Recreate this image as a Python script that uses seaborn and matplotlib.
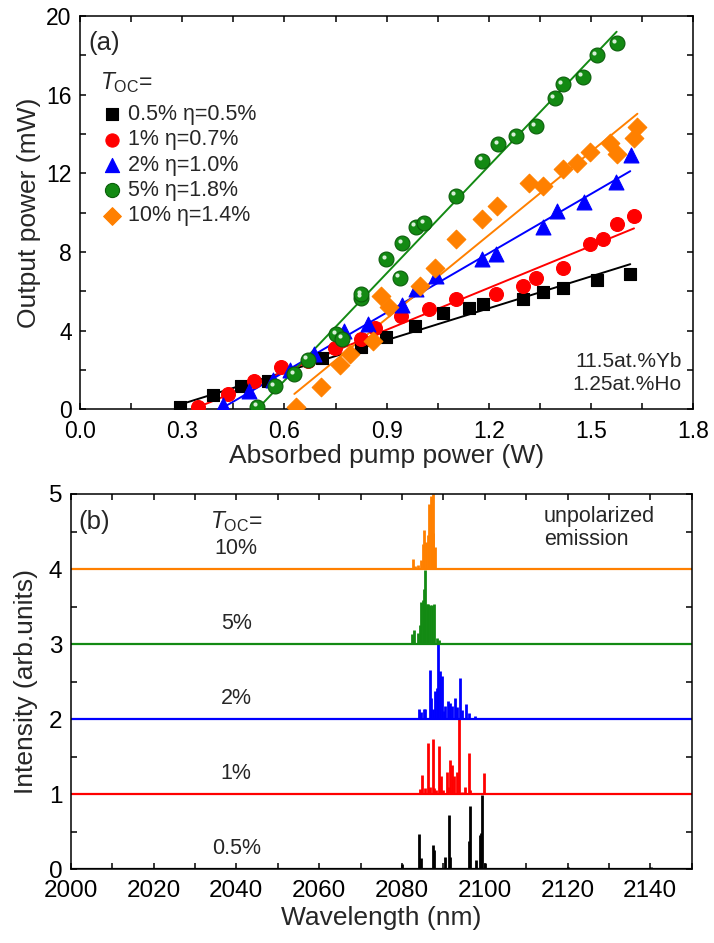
import numpy as np
import pandas as pd
import matplotlib
matplotlib.use("Agg")
import matplotlib.pyplot as plt
import matplotlib.transforms as mtrans
from matplotlib.ticker import MultipleLocator
import seaborn as sns

# ---------------- data: panel (a) ----------------
toc_labels = ["0.5% η=0.5%", "1% η=0.7%", "2% η=1.0%", "5% η=1.8%", "10% η=1.4%"]
colors_a = ["#000000", "#ff0000", "#0000ff", "#138a13", "#ff8000"]
markers_a = ["s", "o", "^", "o", "D"]

p_black = [0.293, 0.391, 0.473, 0.551, 0.710, 0.826, 0.899, 0.984, 1.064, 1.142, 1.183, 1.299, 1.360, 1.419, 1.517, 1.615]
o_black = [0.12, 0.71, 1.21, 1.43, 2.62, 3.16, 3.67, 4.23, 4.90, 5.14, 5.34, 5.60, 5.99, 6.19, 6.56, 6.87]

p_red = [0.345, 0.433, 0.512, 0.590, 0.669, 0.747, 0.826, 0.865, 0.943, 1.024, 1.103, 1.221, 1.299, 1.338, 1.419, 1.497, 1.536, 1.575, 1.626]
o_red = [0.12, 0.78, 1.43, 2.14, 2.45, 3.13, 3.56, 4.15, 4.74, 5.08, 5.63, 5.85, 6.28, 6.70, 7.16, 8.40, 8.66, 9.42, 9.85]

p_blue = [0.419, 0.497, 0.566, 0.615, 0.688, 0.776, 0.845, 0.946, 0.985, 1.044, 1.181, 1.221, 1.360, 1.399, 1.478, 1.574, 1.617]
o_blue = [0.20, 0.92, 1.51, 2.02, 2.79, 3.98, 4.32, 5.31, 6.10, 6.79, 7.63, 7.89, 9.25, 10.10, 10.53, 11.55, 12.91]

p_green = [0.520, 0.571, 0.629, 0.669, 0.752, 0.770, 0.826, 0.826, 0.899, 0.938, 0.946, 0.985, 1.010, 1.103, 1.181, 1.227, 1.279, 1.338, 1.394, 1.417, 1.476, 1.517, 1.575]
o_green = [0.12, 1.17, 1.77, 2.53, 3.81, 3.60, 5.68, 5.85, 7.63, 6.70, 8.44, 9.29, 9.46, 10.87, 12.65, 13.47, 13.88, 14.39, 15.83, 16.52, 16.90, 18.01, 18.61]

p_orange = [0.634, 0.708, 0.762, 0.791, 0.860, 0.884, 0.907, 0.997, 1.041, 1.103, 1.181, 1.223, 1.319, 1.358, 1.417, 1.458, 1.497, 1.556, 1.575, 1.626, 1.636]
o_orange = [0.12, 1.12, 2.24, 2.79, 3.47, 5.77, 5.20, 6.28, 7.21, 8.66, 9.68, 10.36, 11.50, 11.38, 12.23, 12.52, 13.09, 13.54, 13.00, 13.81, 14.36]

fit_x0 = [0.286, 0.335, 0.414, 0.520, 0.629]
fit_x1 = [1.615, 1.626, 1.615, 1.575, 1.636]
fit_y0 = [0.20, 0.03, 0.03, 0.00, 0.78]
fit_y1 = [7.38, 9.20, 12.11, 19.20, 15.03]

# ---------------- data: panel (b) ----------------
spec_labels = ["0.5%", "1%", "2%", "5%", "10%"]
spec_offsets = [0, 1, 2, 3, 4]
spec_colors = ["#000000", "#ff0000", "#0000ff", "#138a13", "#ff8000"]
wl_range = [2000, 2150]

wl_black = [2080.1, 2084.1, 2084.5, 2087.5, 2087.8, 2090.5, 2091.4, 2091.7, 2096.2, 2096.5, 2097.8, 2098.8, 2099.1, 2099.4, 2100.0, 2110.1, 2120.0, 2140.1]
in_black = [0.07, 0.47, 0.15, 0.32, 0.26, 0.17, 0.72, 0.17, 0.38, 0.84, 0.12, 0.46, 0.48, 0.99, 0.08, 0.02, 0.03, 0.03]

wl_red = [2084.3, 2084.9, 2085.7, 2086.3, 2086.7, 2087.4, 2087.8, 2088.3, 2089.0, 2089.4, 2089.9, 2090.8, 2091.1, 2091.7, 2092.1, 2092.5, 2093.2, 2093.7, 2094.4, 2095.3, 2096.1, 2096.5, 2099.8]
in_red = [0.07, 0.26, 0.08, 0.68, 0.10, 0.73, 0.08, 0.06, 0.64, 0.24, 0.05, 0.30, 0.10, 0.46, 0.39, 0.24, 0.30, 1.00, 0.03, 0.09, 0.55, 0.05, 0.28]

wl_blue = [2084.1, 2084.5, 2085.3, 2085.6, 2086.7, 2087.1, 2087.5, 2088.1, 2088.5, 2088.7, 2089.1, 2089.7, 2090.2, 2090.5, 2091.1, 2091.6, 2092.2, 2092.8, 2093.3, 2094.1, 2094.6, 2095.6, 2096.1, 2097.7]
in_blue = [0.13, 0.10, 0.14, 0.13, 0.65, 0.28, 0.14, 0.38, 0.42, 1.00, 0.64, 0.57, 0.11, 0.18, 0.24, 0.21, 0.18, 0.28, 0.16, 0.55, 0.12, 0.20, 0.08, 0.045]

wl_green = [2082.4, 2082.9, 2083.9, 2084.3, 2084.6, 2085.0, 2085.4, 2085.7, 2086.1, 2086.4, 2086.9, 2087.3, 2087.7, 2088.5, 2088.9]
in_green = [0.14, 0.19, 0.15, 0.25, 0.56, 0.59, 0.74, 0.99, 0.54, 0.54, 0.52, 0.52, 0.53, 0.08, 0.05]

wl_orange = [2082.7, 2083.1, 2083.9, 2084.5, 2085.0, 2085.3, 2085.9, 2086.3, 2086.5, 2087.0, 2087.4, 2087.6, 2087.9, 2088.5]
in_orange = [0.14, 0.04, 0.06, 0.12, 0.34, 0.52, 0.36, 0.46, 0.87, 0.97, 1.00, 0.48, 0.30, 0.02]

# ---------------- style ----------------
sns.set_theme(style="ticks")
plt.rcParams["font.family"] = ["Liberation Sans", "DejaVu Sans"]
plt.rcParams["mathtext.fontset"] = "custom"
plt.rcParams["mathtext.rm"] = "Liberation Sans"
plt.rcParams["mathtext.it"] = "Liberation Sans:italic"
plt.rcParams["axes.linewidth"] = 1.1

fig = plt.figure(figsize=(7.14, 9.43), dpi=100)
axa = fig.add_axes([80 / 714, 1 - 409.3 / 943, 613.3 / 714, 393.3 / 943])
axb = fig.add_axes([70.7 / 714, 1 - 869.3 / 943, 621 / 714, 375.3 / 943])

# ---------------- panel (a) ----------------
xs = [p_black, p_red, p_blue, p_green, p_orange]
ys = [o_black, o_red, o_blue, o_green, o_orange]
for i in range(5):
    sns.lineplot(x=[fit_x0[i], fit_x1[i]], y=[fit_y0[i], fit_y1[i]], ax=axa,
                 color=colors_a[i], lw=1.4, zorder=2, legend=False)
sizes = [80, 100, 115, 115, 90]
for i in range(5):
    sns.scatterplot(x=xs[i], y=ys[i], ax=axa, marker=markers_a[i], s=sizes[i],
                    color=colors_a[i], edgecolor=("#0b5e0b" if i == 3 else colors_a[i]),
                    linewidth=0.8, label=toc_labels[i], zorder=3)
# highlight on green spheres
hl = mtrans.offset_copy(axa.transData, fig=fig, x=-1.8, y=1.8, units="points")
axa.scatter(p_green, o_green, s=9, color="#d8efd8", transform=hl, zorder=4, linewidths=0)

axa.set_xlim(0, 1.8)
axa.set_ylim(0, 20)
axa.xaxis.set_major_locator(MultipleLocator(0.3))
axa.xaxis.set_minor_locator(MultipleLocator(0.15))
axa.yaxis.set_major_locator(MultipleLocator(4))
axa.yaxis.set_minor_locator(MultipleLocator(2))
axa.xaxis.set_major_formatter(matplotlib.ticker.FormatStrFormatter("%.1f"))
axa.set_xlabel("Absorbed pump power (W)", fontsize=19, labelpad=1)
axa.set_ylabel("Output power (mW)", fontsize=19, labelpad=4)

leg = axa.legend(loc="upper left", bbox_to_anchor=(0.034, 0.776), frameon=False,
                 fontsize=15.5, handlelength=1.0, handletextpad=0.26, labelspacing=0.2,
                 borderpad=0, borderaxespad=0, markerscale=0.95)
axa.text(0.033, 0.83, r"$T_{\mathrm{OC}}$=", transform=axa.transAxes, fontsize=16.5,
         ha="left", va="center")
axa.text(0.014, 0.931, "(a)", transform=axa.transAxes, fontsize=18.5, ha="left", va="center")
axa.text(1.766, 2.42, "11.5at.%Yb", fontsize=15, ha="right", va="center")
axa.text(1.766, 1.24, "1.25at.%Ho", fontsize=15, ha="right", va="center")

# ---------------- panel (b) ----------------
wls = [wl_black, wl_red, wl_blue, wl_green, wl_orange]
ins = [in_black, in_red, in_blue, in_green, in_orange]
for i in range(5):
    off = spec_offsets[i]
    sns.lineplot(x=wl_range, y=[off, off], ax=axb, color=spec_colors[i], lw=1.6, legend=False)
    axb.vlines(wls[i], off, np.array(ins[i]) + off, color=spec_colors[i], lw=2.0)
    axb.text(2040, off + 0.28, spec_labels[i], fontsize=15.5, ha="center", va="center")

axb.text(2040, 4.63, r"$T_{\mathrm{OC}}$=", fontsize=16.5, ha="center", va="center")
axb.text(0.012, 0.925, "(b)", transform=axb.transAxes, fontsize=18.5, ha="left", va="center")
axb.text(2114.3, 4.55, "unpolarized\nemission", fontsize=15.5, ha="left", va="center",
         linespacing=1.15)

axb.set_xlim(2000, 2150)
axb.set_ylim(0, 5)
axb.xaxis.set_major_locator(MultipleLocator(20))
axb.xaxis.set_minor_locator(MultipleLocator(10))
axb.yaxis.set_major_locator(MultipleLocator(1))
axb.yaxis.set_minor_locator(MultipleLocator(0.5))
axb.set_xlabel("Wavelength (nm)", fontsize=19, labelpad=3)
axb.set_ylabel("Intensity (arb.units)", fontsize=19, labelpad=8)

for ax, ls in ((axa, 16.5), (axb, 17.5)):
    ax.tick_params(which="both", direction="in", top=True, right=True, width=1.1,
                   colors="black", labelsize=ls)
    ax.tick_params(which="major", length=4.5)
    ax.tick_params(which="minor", length=4)
    ax.tick_params(axis="y", which="major", pad=6)
    ax.tick_params(axis="x", which="major", pad=7.5)
    for s in ax.spines.values():
        s.set_color("black")
        s.set_linewidth(1.1)

fig.savefig("out.png", dpi=100)
